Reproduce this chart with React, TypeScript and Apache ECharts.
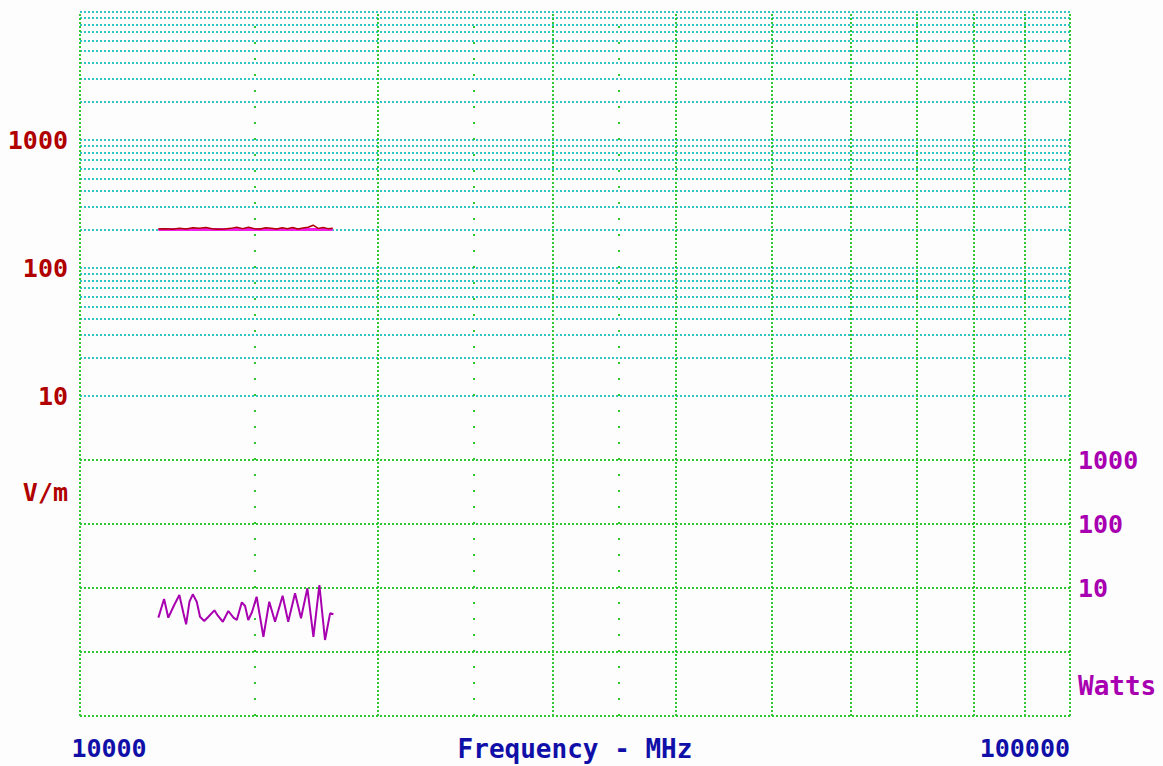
import React, { useEffect, useRef } from 'react';
import * as echarts from 'echarts';

// ---- axis / grid values ----
const xTickLabels = [10000, 100000];
const majorFreqLines = [10000, 20000, 30000, 40000, 50000, 60000, 70000, 80000, 90000, 100000];
const halfFreqLines = [15000, 25000, 35000];
const fieldGridLines = [
  10, 20, 30, 40, 50, 60, 70, 80, 90,
  100, 200, 300, 400, 500, 600, 700, 800, 900,
  1000, 2000, 3000, 4000, 5000, 6000, 7000, 8000, 9000, 10000,
];
const fieldTickLabels = [10, 100, 1000];
const powerGridLines = [0.1, 1, 10, 100, 1000];
const powerTickLabels = [10, 100, 1000];

// ---- series data ----
const fieldFreq = [
  12000, 12200, 12400, 12600, 12800, 13000, 13200, 13400, 13600, 13800, 14000,
  14200, 14400, 14600, 14800, 15000, 15200, 15400, 15600, 15800, 16000, 16200,
  16400, 16600, 16800, 17000, 17200, 17400, 17600, 17800, 18000,
];
const fieldValues = [
  202, 203, 201, 204, 202, 206, 204, 207, 203, 201, 202,
  204, 208, 203, 208, 203, 202, 206, 204, 202, 206, 203,
  207, 202, 205, 208, 216, 204, 207, 203, 204,
];
const limitFreq = [12000, 18000];
const limitValues = [200, 200];
const powerFreq = [
  12000, 12160, 12280, 12450, 12600, 12720, 12800, 12900, 13000, 13120,
  13220, 13350, 13480, 13670, 13780, 13940, 14120, 14290, 14400, 14570,
  14680, 14790, 14920, 15080, 15320, 15530, 15740, 16020, 16230, 16490,
  16720, 16970, 17210, 17450, 17680, 17890, 18030,
];
const powerValues = [
  3.44, 6.73, 3.44, 5.43, 7.77, 4.02, 2.71, 6.11, 7.97, 6.11,
  3.56, 3.05, 3.56, 4.48, 3.69, 2.97, 4.37, 3.44, 3.16, 5.98,
  5.23, 3.16, 4.22, 7.31, 1.73, 6.11, 2.97, 7.58, 2.97, 8.27,
  3.36, 9.9, 1.73, 11.14, 1.54, 4.02, 3.88,
];

const FONT = "'DejaVu Sans Mono', 'Liberation Mono', monospace";
const RED = '#b00000';
const PURPLE = '#a800b0';
const NAVY = '#1010a8';
const TEAL = '#30c4c4';
const GREEN = '#30c830';

const labelStyle = (color: string, size = 25) => ({
  color,
  fontFamily: FONT,
  fontWeight: 'bold' as const,
  fontSize: size,
});

export default function App() {
  const ref = useRef<HTMLDivElement>(null);

  useEffect(() => {
    if (!ref.current) return;
    const chart = echarts.init(ref.current, undefined, { renderer: 'svg' });

    const zip = (xs: number[], ys: number[]) => xs.map((x, i) => [x, ys[i]]);

    const option: any = {
      animation: false,
      backgroundColor: '#fdfdfd',
      grid: { left: 80, right: 93, top: 12, bottom: 50, outerBoundsMode: 'none', containLabel: false },
      xAxis: {
        type: 'log',
        logBase: 10,
        min: 10000,
        max: 100000,
        axisLine: { show: false },
        axisTick: { show: false },
        splitLine: { show: false },
        axisLabel: {
          show: true,
          margin: 20,
          showMinLabel: true,
          showMaxLabel: true,
          alignMinLabel: 'center',
          alignMaxLabel: 'right',
          padding: [0, 0, 0, 58],
          ...labelStyle(NAVY),
          formatter: (v: number) => {
            const r = Math.round(v);
            return xTickLabels.includes(r) ? String(r) : '';
          },
        },
        name: 'Frequency - MHz',
        nameLocation: 'middle',
        nameGap: 20,
        nameMoveOverlap: false,
        nameTextStyle: labelStyle(NAVY, 26),
      },
      yAxis: [
        { type: 'log', logBase: 10, min: Math.pow(10, -1.5), max: 10000, show: false },
        { type: 'log', logBase: 10, min: 0.1, max: 1e10, show: false },
      ],
      graphic: [
        {
          type: 'text',
          right: 1163 - 68,
          top: 480,
          style: { text: 'V/m', fill: RED, font: `bold 25px ${FONT}` },
        },
        {
          type: 'text',
          left: 1078,
          top: 673,
          style: { text: 'Watts', fill: PURPLE, font: `bold 26px ${FONT}` },
        },
      ],
      series: [
        {
          type: 'line',
          name: 'field-grid',
          data: [],
          yAxisIndex: 0,
          silent: true,
          markLine: {
            silent: true,
            z: 1,
            animation: false,
            symbol: ['none', 'none'],
            data: fieldGridLines.map((v) => ({
              yAxis: v,
              lineStyle: { color: TEAL, width: 2, type: [2, 2] },
              label: fieldTickLabels.includes(v)
                ? { show: true, position: 'start', distance: 12, formatter: String(v), ...labelStyle(RED) }
                : { show: false },
            })),
          },
        },
        {
          type: 'line',
          name: 'power-grid',
          data: [],
          yAxisIndex: 1,
          silent: true,
          markLine: {
            silent: true,
            z: 1,
            animation: false,
            symbol: ['none', 'none'],
            data: powerGridLines.map((v) => ({
              yAxis: v,
              lineStyle: { color: GREEN, width: 2, type: [2, 2] },
              label: powerTickLabels.includes(v)
                ? { show: true, position: 'end', distance: 8, formatter: String(v), ...labelStyle(PURPLE) }
                : { show: false },
            })),
          },
        },
        {
          type: 'line',
          name: 'freq-grid',
          data: [],
          yAxisIndex: 0,
          silent: true,
          markLine: {
            silent: true,
            z: 1,
            animation: false,
            symbol: ['none', 'none'],
            label: { show: false },
            data: [
              ...majorFreqLines.map((f) => ({
                xAxis: f,
                lineStyle: { color: GREEN, width: 2, type: [2, 2] },
              })),
              ...halfFreqLines.map((f) => ({
                xAxis: f,
                lineStyle: { color: GREEN, width: 2, type: [2, 14] },
              })),
            ],
          },
        },
        {
          type: 'line',
          name: 'limit',
          yAxisIndex: 0,
          data: zip(limitFreq, limitValues),
          symbol: 'none',
          z: 3,
          lineStyle: { color: '#f020e8', width: 3 },
        },
        {
          type: 'line',
          name: 'V/m',
          yAxisIndex: 0,
          data: zip(fieldFreq, fieldValues),
          symbol: 'none',
          z: 4,
          lineStyle: { color: RED, width: 1.5 },
        },
        {
          type: 'line',
          name: 'Watts',
          yAxisIndex: 1,
          data: zip(powerFreq, powerValues),
          symbol: 'none',
          z: 4,
          lineStyle: { color: PURPLE, width: 2 },
        },
      ],
    };

    chart.setOption(option);
    return () => chart.dispose();
  }, []);

  return (
    <div
      ref={ref}
      style={{ position: 'fixed', left: 0, top: 0, width: 1163, height: 766 }}
    />
  );
}
